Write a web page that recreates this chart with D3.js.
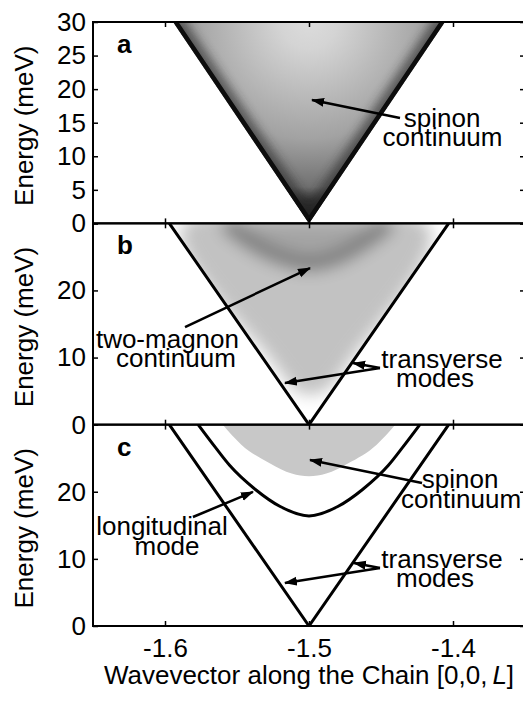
<!DOCTYPE html>
<html>
<head>
<meta charset="utf-8">
<title>Spin excitations along the chain</title>
<style>
body { margin: 0; background: #fff; }
svg { display: block; font-family: "Liberation Sans", Arial, Helvetica, sans-serif; }
</style>
</head>
<body>
<script src="https://d3js.org/d3.v7.min.js"></script>
<script>

// tick values
var xTicks = [-1.6, -1.5, -1.4];
var yTicksA = [0, 5, 10, 15, 20, 25, 30];
var yTicksBC = [0, 10, 20, 30];
var panelKeys = ["a", "b", "c"];

// curves: [L, energy (meV)]
var spinonEdgeA = [[-1.5944, 30], [-1.5, 0], [-1.4056, 30]];
var transverse = [[-1.597, 30], [-1.5, 0], [-1.403, 30]];
var longitudinal = [[-1.577, 30], [-1.565, 26.6], [-1.555, 23.9], [-1.537, 20.3], [-1.52, 17.8],
  [-1.5, 16.4], [-1.48, 17.8], [-1.463, 20.3], [-1.445, 23.9], [-1.435, 26.6], [-1.423, 30]];
var spinonEdgeC = [[-1.56, 30], [-1.547, 27], [-1.527, 24.2], [-1.512, 22.7], [-1.5, 22.3],
  [-1.488, 22.7], [-1.473, 24.2], [-1.453, 27], [-1.44, 30]];
var twoMagnonOuter = [[-1.586, 30], [-1.419, 30], [-1.4715, 9.5], [-1.4993, 4.5], [-1.5257, 9.5]];
var twoMagnonBand = [[-1.558, 30], [-1.541, 27.3], [-1.52, 25], [-1.5, 24], [-1.48, 25],
  [-1.461, 27.3], [-1.444, 30]];

// annotations: panel index, each line at [L, E]
var labels = [
  {p: 0, lines: [["spinon", -1.4076, 14.35], ["continuum", -1.4073, 11.52]]},
  {p: 1, lines: [["two-magnon", -1.5983, 11.42], ["continuum", -1.5924, 8.58]]},
  {p: 1, lines: [["transverse", -1.4076, 8.44], ["modes", -1.4125, 5.6]]},
  {p: 2, lines: [["spinon", -1.3951, 20.57], ["continuum", -1.3944, 17.59]]},
  {p: 2, lines: [["longitudinal", -1.6021, 13.56], ["mode", -1.5986, 10.58]]},
  {p: 2, lines: [["transverse", -1.4076, 8.64], ["modes", -1.4125, 5.81]]}
];
var arrows = [
  {p: 0, from: [-1.4368, 15.69], to: [-1.4979, 18.38]},
  {p: 1, from: [-1.5861, 14.55], to: [-1.4993, 23.34]},
  {p: 1, from: [-1.4507, 8.44], to: [-1.4694, 9.18]},
  {p: 1, from: [-1.4507, 8.44], to: [-1.5167, 6.2]},
  {p: 2, from: [-1.4215, 21.31], to: [-1.4993, 24.74]},
  {p: 2, from: [-1.5806, 16.24], to: [-1.5389, 19.97]},
  {p: 2, from: [-1.4507, 8.64], to: [-1.4688, 9.39]},
  {p: 2, from: [-1.4507, 8.64], to: [-1.5167, 6.41]}
];

var width = 523, height = 705;
var left = 93, right = 525;
var panelTops = [22, 223.3, 424.6], panelH = 201.4;

var svg = d3.select("body").append("svg")
    .attr("width", width)
    .attr("height", height);

var defs = svg.append("defs");

var x = d3.scaleLinear().domain([-1.65, -1.35]).range([left, right]);
var ys = panelTops.map(function(t) {
  return d3.scaleLinear().domain([0, 30]).range([t + panelH, t]);
});

// gradients and filters
var ga = defs.append("radialGradient").attr("id", "spinonA")
    .attr("gradientUnits", "userSpaceOnUse")
    .attr("cx", x(-1.5)).attr("cy", panelTops[0] - 2).attr("r", 192);
[[0, "#dcdcdc"], [0.15, "#d4d4d4"], [0.62, "#a2a2a2"], [0.87, "#707070"],
 [0.94, "#333333"], [1, "#161616"]].forEach(function(s) {
  ga.append("stop").attr("offset", s[0]).attr("stop-color", s[1]);
});

defs.append("filter").attr("id", "blur5")
    .attr("x", "-30%").attr("y", "-30%").attr("width", "160%").attr("height", "160%")
  .append("feGaussianBlur").attr("stdDeviation", 5);
defs.append("filter").attr("id", "blur8")
    .attr("x", "-30%").attr("y", "-30%").attr("width", "160%").attr("height", "160%")
  .append("feGaussianBlur").attr("stdDeviation", 8);

defs.append("marker").attr("id", "head")
    .attr("markerUnits", "userSpaceOnUse")
    .attr("viewBox", "0 -5 13 10")
    .attr("refX", 12).attr("refY", 0)
    .attr("markerWidth", 13).attr("markerHeight", 10)
    .attr("orient", "auto")
  .append("path").attr("d", "M0,-4.5L13,0L0,4.5Z").attr("fill", "#000");

panelTops.forEach(function(t, i) {
  defs.append("clipPath").attr("id", "clip" + i)
    .append("rect").attr("x", left).attr("y", t).attr("width", right - left).attr("height", panelH);
});

function lineFor(y, curve) {
  return d3.line().x(function(d) { return x(d[0]); }).y(function(d) { return y(d[1]); })
    .curve(curve || d3.curveLinear);
}
function topArea(y, curve) {
  return d3.area().x(function(d) { return x(d[0]); })
    .y0(y(30)).y1(function(d) { return y(d[1]); })
    .curve(curve || d3.curveLinear);
}

// ---- panel a: spinon continuum
var ya = ys[0];
var pa = svg.append("g").attr("clip-path", "url(#clip0)");
defs.append("clipPath").attr("id", "vA").append("path").attr("d", topArea(ya)(spinonEdgeA));
var va = pa.append("g").attr("clip-path", "url(#vA)");
va.append("path").attr("d", topArea(ya)(spinonEdgeA)).attr("fill", "url(#spinonA)");
va.append("path").attr("d", lineFor(ya)(spinonEdgeA))
    .attr("fill", "none").attr("stroke", "#2a2a2a").attr("stroke-width", 22)
    .attr("filter", "url(#blur5)").attr("opacity", 0.6);
va.append("path").attr("d", lineFor(ya)(spinonEdgeA))
    .attr("fill", "none").attr("stroke", "#0d0d0d").attr("stroke-width", 9);

// ---- panel b: two-magnon continuum and transverse modes
var yb = ys[1];
var pb = svg.append("g").attr("clip-path", "url(#clip1)");
defs.append("clipPath").attr("id", "vB").append("path").attr("d", topArea(yb)(transverse));
var vb = pb.append("g").attr("clip-path", "url(#vB)").append("g").attr("filter", "url(#blur8)");
vb.append("path").attr("d", lineFor(yb, d3.curveCardinalClosed)(twoMagnonOuter)).attr("fill", "#c2c2c2");
vb.append("path").attr("d", topArea(yb, d3.curveMonotoneX)(twoMagnonBand)).attr("fill", "#a4a4a4");
vb.append("path").attr("d", lineFor(yb, d3.curveMonotoneX)(twoMagnonBand))
    .attr("fill", "none").attr("stroke", "#7c7c7c").attr("stroke-width", 16);
pb.append("path").attr("d", lineFor(yb)(transverse))
    .attr("fill", "none").attr("stroke", "#000").attr("stroke-width", 3);

// ---- panel c: spinon continuum, longitudinal and transverse modes
var yc = ys[2];
var pc = svg.append("g").attr("clip-path", "url(#clip2)");
pc.append("path").attr("d", topArea(yc, d3.curveMonotoneX)(spinonEdgeC)).attr("fill", "#c8c8c8");
pc.append("path").attr("d", lineFor(yc, d3.curveMonotoneX)(longitudinal))
    .attr("fill", "none").attr("stroke", "#000").attr("stroke-width", 3);
pc.append("path").attr("d", lineFor(yc)(transverse))
    .attr("fill", "none").attr("stroke", "#000").attr("stroke-width", 3);

// arrows
svg.append("g").selectAll("line").data(arrows).enter().append("line")
    .attr("x1", function(d) { return x(d.from[0]); })
    .attr("y1", function(d) { return ys[d.p](d.from[1]); })
    .attr("x2", function(d) { return x(d.to[0]); })
    .attr("y2", function(d) { return ys[d.p](d.to[1]); })
    .attr("stroke", "#000").attr("stroke-width", 2.5)
    .attr("marker-end", "url(#head)");

// annotation text, one element per label with a tspan per line
var lab = svg.append("g").selectAll("text").data(labels).enter().append("text")
    .attr("text-anchor", "middle")
    .attr("font-size", 26);
lab.selectAll("tspan").data(function(d) {
    return d.lines.map(function(l) { return {p: d.p, text: l[0], L: l[1], E: l[2]}; });
  }).enter().append("tspan")
    .attr("x", function(d) { return x(d.L); })
    .attr("y", function(d) { return ys[d.p](d.E); })
    .text(function(d) { return d.text; });

// frames, ticks, labels
panelTops.forEach(function(t, i) {
  var y = ys[i];
  var g = svg.append("g");

  g.append("rect").attr("x", left).attr("y", t).attr("width", right - left).attr("height", panelH)
    .attr("fill", "none").attr("stroke", "#000").attr("stroke-width", 2);

  var yt = i === 0 ? yTicksA : yTicksBC;
  var yAxis = g.append("g").attr("transform", "translate(" + left + ",0)")
    .call(d3.axisLeft(y).tickValues(yt).tickSize(-5).tickPadding(7)
      .tickFormat(function(v) { return (i > 0 && v === 30) ? "" : v; }));
  yAxis.select(".domain").remove();
  yAxis.selectAll("text").attr("font-size", 26).attr("font-family", null).attr("fill", "#000");
  yAxis.selectAll("line").attr("stroke-width", 1.5);

  var rAxis = g.append("g").attr("transform", "translate(" + right + ",0)")
    .call(d3.axisRight(y).tickValues(yt).tickSize(-5).tickFormat(""));
  rAxis.select(".domain").remove();
  rAxis.selectAll("line").attr("stroke-width", 1.5);

  var tAxis = g.append("g").attr("transform", "translate(0," + t + ")")
    .call(d3.axisTop(x).tickValues(xTicks).tickSize(-5).tickFormat(""));
  tAxis.select(".domain").remove();
  tAxis.selectAll("line").attr("stroke-width", 1.5);

  var bAxis = g.append("g").attr("transform", "translate(0," + (t + panelH) + ")")
    .call(d3.axisBottom(x).tickValues(xTicks).tickSize(-5).tickPadding(13)
      .tickFormat(i === 2 ? d3.format(".1f") : ""));
  bAxis.select(".domain").remove();
  bAxis.selectAll("line").attr("stroke-width", 1.5);
  bAxis.selectAll("text").attr("font-size", 26).attr("font-family", null).attr("fill", "#000")
    .text(function(v) { return i === 2 ? d3.format(".1f")(v).replace("\u2212", "-") : ""; });

  g.append("text")
    .attr("x", 117).attr("y", t + 31)
    .attr("font-size", 26).attr("font-weight", "bold")
    .text(panelKeys[i]);

  g.append("text")
    .attr("transform", "translate(33," + (t + panelH / 2 + 3) + ") rotate(-90)")
    .attr("text-anchor", "middle")
    .attr("font-size", 26)
    .text("Energy (meV)");
});

// x axis title
var xt = svg.append("text")
    .attr("x", 309).attr("y", 684)
    .attr("text-anchor", "middle")
    .attr("font-size", 26);
xt.append("tspan").text("Wavevector along the Chain [0,0,");
xt.append("tspan").attr("font-style", "italic").attr("dx", 5).text("L");
xt.append("tspan").text("]");

</script>
</body>
</html>
